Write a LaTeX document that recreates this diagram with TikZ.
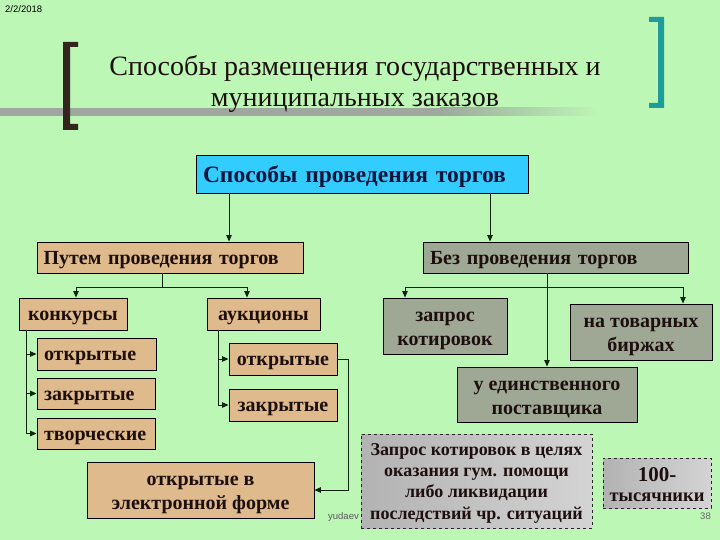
\documentclass[tikz,border=0pt]{standalone}
\usepackage{fontspec}
\setmainfont{Liberation Serif}
\setsansfont{Liberation Sans}
\usetikzlibrary{arrows.meta}
\definecolor{bg}{RGB}{188,247,181}
\definecolor{tanf}{RGB}{222,186,140}
\definecolor{grbox}{RGB}{158,168,148}
\definecolor{skyb}{RGB}{51,204,255}
\definecolor{lnk}{RGB}{15,35,15}
\definecolor{brkA}{RGB}{50,38,30}
\definecolor{brkB}{RGB}{30,155,155}
\definecolor{txt}{RGB}{30,15,15}
\definecolor{navyt}{RGB}{15,20,60}
\definecolor{barg}{RGB}{158,168,158}
\begin{document}
\begin{tikzpicture}[x=1pt,y=-1pt,
  bx/.style={draw=black, line width=0.9pt, inner ysep=0pt, inner xsep=7pt, align=center,
    font=\bfseries\fontsize{20}{24}\selectfont, text=txt},
  one/.style={text height=14pt, text depth=1pt},
  two/.style={text height=40pt, text depth=1pt},
  tanb/.style={bx, fill=tanf},
  grb/.style={bx, fill=grbox},
  dsh/.style={draw=black!85, dashed, line width=0.8pt, left color=black!30,
    middle color=black!5, right color=black!17, inner sep=0pt, align=center, text=txt},
  arr/.style={draw=lnk, line width=0.9pt, -{Triangle[length=6.5pt,width=5.5pt]}},
  ln/.style={draw=lnk, line width=0.9pt},
  small/.style={font=\sffamily\fontsize{9.5}{10}\selectfont, inner sep=0pt}]
\fill[bg] (0,0) rectangle (720,540);
\useasboundingbox (0,0) rectangle (720,540);
% decorative bar and brackets
\fill[barg] (0,108) rectangle (440,116);
\shade[left color=barg, right color=bg] (440,108) rectangle (600,116);
\fill[brkA] (63,42) -- (78,42) -- (78,47) -- (70,47) -- (70,124) -- (78,124) -- (78,130) -- (63,130) -- cycle;
\fill[brkB] (664,17) -- (649,17) -- (649,22) -- (658,22) -- (658,103) -- (649,103) -- (649,108) -- (664,108) -- cycle;
% date
\node[small, text=black, anchor=north west] (date) at (5,5) {2/2/2018};
% title
\node[font=\fontsize{28}{31}\selectfont, text=txt, anchor=base, inner sep=0pt] (title1) at (355,76) {Способы размещения государственных и};
\node[font=\fontsize{28}{31}\selectfont, text=txt, anchor=base, inner sep=0pt] (title2) at (355,107) {муниципальных заказов};
% main box
\node[bx, fill=skyb, minimum width=332, minimum height=38, text width=318, align=left,
  text height=19pt, text depth=1pt,
  font=\bfseries\fontsize{23.5}{26}\selectfont, text=navyt] (blue) at (362,174) {Способы проведения торгов};
% level 2
\node[tanb, one, minimum width=266, minimum height=31, text width=253, align=left, inner xsep=6.5pt] (put) at (170,257.5) {Путем проведения торгов};
\node[grb, one, minimum width=265, minimum height=31, text width=251, align=left] (bez) at (555.5,257.5) {Без проведения торгов};
% left branch
\node[tanb, one, minimum width=108, minimum height=32] (konk) at (73,314) {конкурсы};
\node[tanb, one, minimum width=113, minimum height=32] (auk) at (263.5,314) {аукционы};
\node[tanb, one, minimum width=119, minimum height=32, text width=105, align=left] (ko1) at (96.5,354) {открытые};
\node[tanb, one, minimum width=118, minimum height=31, text width=104, align=left] (ko2) at (96,393.5) {закрытые};
\node[tanb, one, minimum width=118, minimum height=31, text width=104, align=left] (ko3) at (96,433.5) {творческие};
\node[tanb, one, minimum width=108, minimum height=32] (ao1) at (283,359) {открытые};
\node[tanb, one, minimum width=108, minimum height=32] (ao2) at (283,405) {закрытые};
\node[tanb, two, minimum width=227, minimum height=56] (elec) at (200.5,490) {открытые в\\электронной форме};
% right branch
\node[grb, two, minimum width=124, minimum height=56] (zap) at (445,326) {запрос\\котировок};
\node[grb, two, minimum width=142, minimum height=56] (tov) at (641,332) {на товарных\\биржах};
\node[grb, two, minimum width=180, minimum height=55] (edin) at (547,394.5) {у единственного\\поставщика};
% footer text
\node[small, text=black!65, anchor=base east] (mail) at (359,519) {yudaev};
\node[dsh, minimum width=231, minimum height=94, text height=77pt, text depth=1pt,
  font=\bfseries\fontsize{18}{21.3}\selectfont] (zk) at (476.5,481)
  {Запрос котировок в целях\\оказания гум. помощи\\либо ликвидации\\последствий чр. ситуаций};
\node[dsh, minimum width=108, minimum height=50, text height=38.4pt, text depth=1pt,
  font=\bfseries\fontsize{18.5}{20}\selectfont] (tys) at (657,483)
  {{\fontsize{21}{20}\selectfont 100-}\\тысячники};
\node[small, text=black!60, anchor=base east] (pg) at (711,519) {38};
% helper coordinates
\coordinate (xa) at (229,0);
\coordinate (xb) at (490,0);
\coordinate (xp) at (162,0);
\coordinate (xk) at (76,0);
\coordinate (xu) at (247,0);
\coordinate (xkv) at (26,0);
\coordinate (xav) at (218,0);
\coordinate (xz) at (405,0);
\coordinate (xt) at (683,0);
\coordinate (xe) at (547,0);
\coordinate (yl) at (0,287);
% connectors
\draw[arr] (blue.south -| xa) -- (put.north -| xa);
\draw[arr] (blue.south -| xb) -- (bez.north -| xb);
\draw[ln] (put.south -| xp) -- (xp |- yl);
\draw[ln] (xk |- yl) -- (xu |- yl);
\draw[arr] (xk |- yl) -- (konk.north -| xk);
\draw[arr] (xu |- yl) -- (auk.north -| xu);
\draw[arr] (konk.south -| xkv) |- (ko3.west);
\draw[arr] (xkv |- ko1.west) -- (ko1.west);
\draw[arr] (xkv |- ko2.west) -- (ko2.west);
\draw[arr] (auk.south -| xav) |- (ao2.west);
\draw[arr] (xav |- ao1.west) -- (ao1.west);
\draw[arr] (ao1.east) -- ++(11,0) |- (elec.east);
\draw[arr] (bez.south -| xe) -- (edin.north -| xe);
\draw[ln] (xz |- yl) -- (xt |- yl);
\draw[arr] (xz |- yl) -- (zap.north -| xz);
\draw[arr] (xt |- yl) -- (tov.north -| xt);
\end{tikzpicture}
\end{document}
